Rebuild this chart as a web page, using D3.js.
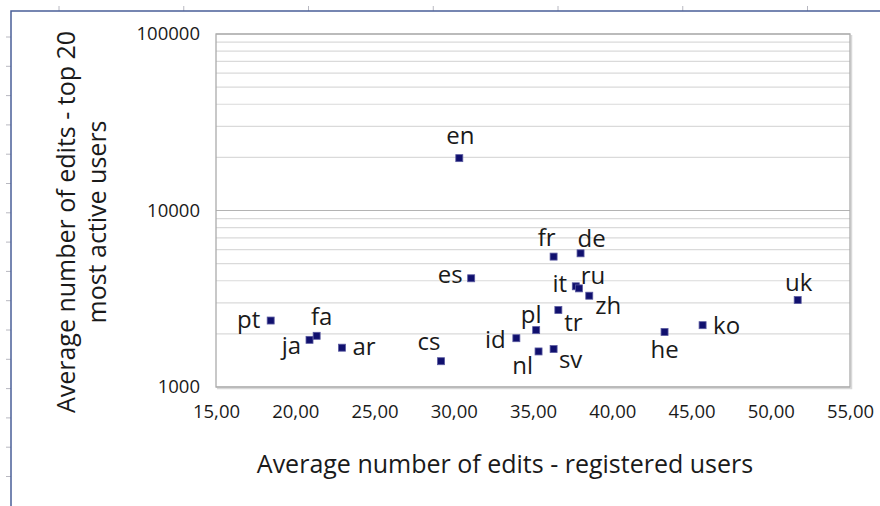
<!DOCTYPE html>
<html>
<head>
<meta charset="utf-8">
<script src="https://cdn.jsdelivr.net/npm/d3@7"></script>
<style>
  body { margin: 0; background: #fff; }
  svg { display: block; font-family: "Open Sans", "Noto Sans", sans-serif; }
</style>
</head>
<body>
<svg width="880" height="506"></svg>
<script>
// Language editions and their two averages
const languages = ["en", "fr", "de", "es", "it", "ru", "zh", "tr", "pl", "id",
                   "nl", "sv", "cs", "pt", "ja", "fa", "ar", "uk", "ko", "he"];
const registeredEdits = [30.35, 36.3, 38.0, 31.1, 37.7, 37.9, 38.55, 36.6, 35.2, 33.95,
                         35.35, 36.3, 29.2, 18.45, 20.9, 21.35, 22.95, 51.7, 45.7, 43.3];
const topActiveEdits = [19800, 5480, 5720, 4130, 3720, 3620, 3290, 2730, 2100, 1890,
                        1590, 1640, 1400, 2380, 1850, 1950, 1670, 3110, 2240, 2050];
const xTicks = [15, 20, 25, 30, 35, 40, 45, 50, 55];
const yTicks = [1000, 10000, 100000];

// where each label sits relative to its point (dx, dy of text centre)
const labelOffset = {
    en: [1, -23], fr: [-7, -19], de: [11, -15], es: [-21, -4], it: [-16, -3],
    ru: [14, -13], zh: [19, 10], tr: [15, 13], pl: [-5, -16], id: [-21, 1],
    nl: [-16, 14], sv: [17, 11], cs: [-12, -20], pt: [-22, -1], ja: [-18, 6],
    fa: [5, -19], ar: [22, -1], uk: [1, -17], ko: [24, 0], he: [0, 18]
};

const points = languages.map((lang, i) => ({
    lang: lang,
    x: registeredEdits[i],
    y: topActiveEdits[i]
}));

const svg = d3.select("svg");
const plot = {left: 216, right: 850, top: 34, bottom: 387};

// editor frame with ruler marks
const ruler = svg.append("g");
d3.range(7).forEach(k => {
    const x = 59 + 124.75 * k;
    ruler.append("line").attr("x1", x).attr("x2", x).attr("y1", 6).attr("y2", 11)
        .attr("stroke", "#b8b8c0").attr("stroke-width", 1);
});
d3.range(16).forEach(k => {
    const y = 37 + 29.3 * k;
    ruler.append("line").attr("x1", 6).attr("x2", 11).attr("y1", y).attr("y2", y)
        .attr("stroke", "#b8b8c0").attr("stroke-width", 1);
});
ruler.append("path")
    .attr("d", "M11,506V11H880")
    .attr("fill", "none")
    .attr("stroke", "#4a5f98")
    .attr("stroke-width", 1.5);

const xScale = d3.scaleLinear()
    .domain([15, 55])
    .range([plot.left, plot.right]);

const yScale = d3.scaleLog()
    .domain([1000, 100000])
    .range([plot.bottom, plot.top]);

// minor grid lines (2..9 within each decade)
const minor = [];
[1000, 10000].forEach(d => d3.range(2, 10).forEach(m => minor.push(d * m)));
svg.append("g").selectAll("line")
    .data(minor)
    .enter()
    .append("line")
    .attr("x1", plot.left).attr("x2", plot.right)
    .attr("y1", d => yScale(d)).attr("y2", d => yScale(d))
    .attr("stroke", "#dadada")
    .attr("stroke-width", 1.2);

svg.append("g").selectAll("line")
    .data(yTicks)
    .enter()
    .append("line")
    .attr("x1", plot.left).attr("x2", plot.right)
    .attr("y1", d => yScale(d)).attr("y2", d => yScale(d))
    .attr("stroke", "#b3b3b3")
    .attr("stroke-width", 1.2);

// plot area border with a light shadow
svg.append("path")
    .attr("d", `M${plot.right + 1.5},${plot.top + 1}V${plot.bottom + 1.5}H${plot.left + 1}`)
    .attr("fill", "none")
    .attr("stroke", "#d8d8d8")
    .attr("stroke-width", 1.5);
svg.append("rect")
    .attr("x", plot.left).attr("y", plot.top)
    .attr("width", plot.right - plot.left)
    .attr("height", plot.bottom - plot.top)
    .attr("fill", "none")
    .attr("stroke", "#ababab")
    .attr("stroke-width", 1.3);

// axes (labels only, no tick marks)
const yAxis = svg.append("g")
    .attr("transform", `translate(${plot.left},0)`)
    .call(d3.axisLeft(yScale).tickValues(yTicks).tickFormat(d3.format("d")).tickSize(0).tickPadding(16));
yAxis.select(".domain").remove();
yAxis.selectAll("text").attr("font-size", 18.5).attr("fill", "#1a1a1a")
    .attr("font-family", "Open Sans");

const xAxis = svg.append("g")
    .attr("transform", `translate(0,${plot.bottom})`)
    .call(d3.axisBottom(xScale).tickValues(xTicks)
        .tickFormat(d => d3.format(".2f")(d).replace(".", ",")).tickSize(0).tickPadding(18));
xAxis.select(".domain").remove();
xAxis.selectAll("text").attr("font-size", 18.5).attr("fill", "#1a1a1a")
    .attr("font-family", "Open Sans");

// axis titles
svg.append("text")
    .attr("x", 505).attr("y", 473)
    .attr("text-anchor", "middle")
    .attr("font-size", 25)
    .attr("fill", "#1a1a1a")
    .text("Average number of edits - registered users");

const yTitle = svg.append("text")
    .attr("transform", "translate(0,222) rotate(-90)")
    .attr("text-anchor", "middle")
    .attr("font-size", 25)
    .attr("fill", "#1a1a1a");
yTitle.append("tspan").attr("x", 0).attr("y", 75).text("Average number of edits - top 20");
yTitle.append("tspan").attr("x", 0).attr("y", 106).text("most active users");

// markers
svg.append("g").selectAll("rect")
    .data(points)
    .enter()
    .append("rect")
    .attr("x", d => xScale(d.x) - 3.5)
    .attr("y", d => yScale(d.y) - 3.5)
    .attr("width", 7)
    .attr("height", 7)
    .attr("fill", "#10106e")
    .attr("stroke", "#5a5aa0")
    .attr("stroke-width", 0.8);

// data labels
svg.append("g").selectAll("text")
    .data(points)
    .enter()
    .append("text")
    .attr("x", d => xScale(d.x) + labelOffset[d.lang][0])
    .attr("y", d => yScale(d.y) + labelOffset[d.lang][1])
    .attr("dy", "0.35em")
    .attr("text-anchor", "middle")
    .attr("font-size", 24)
    .attr("fill", "#1a1a1a")
    .text(d => d.lang);
</script>
</body>
</html>
